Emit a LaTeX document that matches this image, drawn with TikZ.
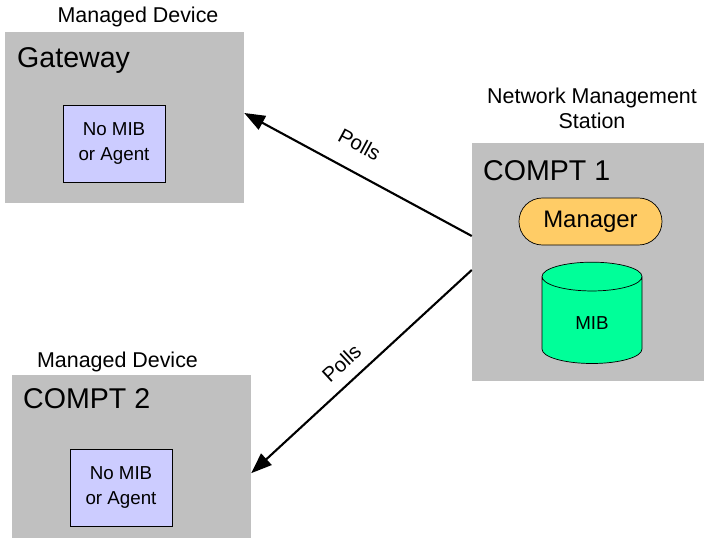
\documentclass[tikz,border=0pt]{standalone}
\usepackage{fontspec}
\setmainfont{Liberation Sans}
\usetikzlibrary{arrows.meta, shapes.geometric}
\definecolor{boxgray}{HTML}{C0C0C0}
\definecolor{lilac}{HTML}{CCCCFF}
\definecolor{apricot}{HTML}{FFCC66}
\definecolor{mint}{HTML}{00FF99}

\begin{document}
\begin{tikzpicture}[
  >={Triangle[length=0.62cm, width=0.46cm]},
  devbox/.style={fill=boxgray, draw=none, minimum width=7.17cm},
  inbox/.style={draw, fill=lilac, line width=0.6pt, minimum width=3.06cm,
    minimum height=2.31cm, align=center, font=\fontsize{16}{20.5}\selectfont},
  devname/.style={inner sep=0pt, anchor=base west, font=\fontsize{24.4}{28}\selectfont},
  caption/.style={inner sep=0pt, anchor=base, font=\fontsize{18.3}{22}\selectfont},
  poll/.style={->, line width=1.8pt},
  polltext/.style={sloped, font=\fontsize{17.5}{20}\selectfont}
]

\useasboundingbox (0,0) rectangle (21.12,16.41);

% ── Gateway (managed device) ──
\node[caption] (cap1) at (4.14,15.72) {Managed Device};
\node[devbox, minimum height=5.13cm] (gateway) at (3.735,12.885) {};
\node[devname] (gwname) at (0.51,14.37) {Gateway};
\node[inbox] (gwmib) at (3.42,12.105) {No MIB\\or Agent};

% ── COMPT 2 (managed device) ──
\node[caption] (cap2) at (3.525,5.40) {Managed Device};
\node[devbox, minimum height=4.89cm] (compb) at (3.945,2.715) {};
\node[devname] (cbname) at (0.69,4.17) {COMPT 2};
\node[inbox] (cbmib) at (3.63,1.785) {No MIB\\or Agent};

% ── Network management station ──
\node[align=center, inner sep=0pt, font=\fontsize{18.3}{21.3}\selectfont]
  (nmscap) at (17.76,13.15) {Network Management\\Station};
\node[devbox, minimum width=6.96cm, minimum height=7.14cm] (nms) at (17.64,8.55) {};
\node[devname] (caname) at (14.49,11.01) {COMPT 1};
\node[draw, fill=apricot, line width=0.6pt, rounded corners=0.7cm,
  minimum width=4.29cm, minimum height=1.41cm, font=\fontsize{20.4}{24}\selectfont]
  (manager) at (17.715,9.765) {Manager};
\node[cylinder, shape border rotate=90, draw, line width=0.6pt,
  cylinder uses custom fill, cylinder body fill=mint, cylinder end fill=mint,
  minimum width=3cm, minimum height=3.04cm, aspect=0.7,
  font=\fontsize{16}{20}\selectfont] (mib) at (17.76,6.72) {MIB};

% ── Polling arrows ──
\draw[poll] ([yshift=0.78cm]nms.west) -- ([yshift=0.135cm]gateway.east)
  node[polltext, pos=0.55, above=0.44cm] (poll1) {Polls};
\draw[poll] ([yshift=-0.24cm]nms.west) -- ([yshift=-0.5cm]compb.east)
  node[polltext, pos=0.53, above=0.22cm] (poll2) {Polls};

\end{tikzpicture}
\end{document}
